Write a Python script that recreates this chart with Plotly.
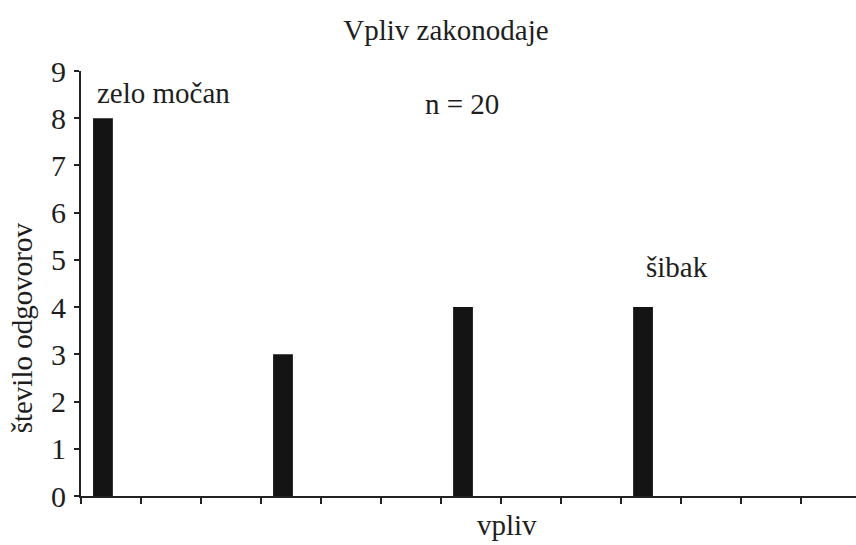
import plotly.graph_objects as go

categories = ["zelo močan", "močan", "srednje", "šibak", "zelo šibak"]
values = [8, 3, 4, 4, 0]
y_ticks = [0, 1, 2, 3, 4, 5, 6, 7, 8, 9]

FONT = "Liberation Serif"
TXT = "#1e1e1e"

positions = list(range(len(categories)))

fig = go.Figure()
fig.add_trace(go.Bar(
    x=positions, y=values, width=0.11,
    marker=dict(color="#141414", line=dict(width=0)),
    hovertext=categories, hoverinfo="text+y",
))

fig.update_layout(
    width=856, height=545,
    margin=dict(l=81, r=0, t=71, b=49),
    paper_bgcolor="white", plot_bgcolor="white",
    showlegend=False,
    font=dict(family=FONT, color=TXT, size=29),
    title=dict(text="Vpliv zakonodaje", x=0.521, xanchor="center",
               y=1 - 30 / 545, yanchor="middle",
               font=dict(family=FONT, size=29, color=TXT)),
    xaxis=dict(range=[-0.122, 4.183], tickmode="linear", tick0=-0.122, dtick=1 / 3,
               showticklabels=False, ticks="outside", ticklen=6, tickwidth=1.5,
               tickcolor="#222", showline=True, linecolor="#222", linewidth=2,
               showgrid=False, zeroline=False, fixedrange=True),
    yaxis=dict(range=[0, 9], tickmode="array", tickvals=y_ticks,
               ticktext=[str(v) for v in y_ticks],
               ticks="outside", ticklen=5, tickwidth=1.5, tickcolor="#222",
               tickfont=dict(family=FONT, size=30, color=TXT),
               ticklabelstandoff=2,
               showline=True, linecolor="#222", linewidth=2,
               showgrid=False, zeroline=False, fixedrange=True),
    annotations=[
        dict(text="zelo močan", xref="paper", yref="y", x=(95 - 81) / 775, y=8.53,
             xanchor="left", yanchor="middle", showarrow=False,
             font=dict(family=FONT, size=29, color=TXT)),
        dict(text="n = 20", xref="paper", yref="y", x=(423 - 81) / 775, y=8.3,
             xanchor="left", yanchor="middle", showarrow=False,
             font=dict(family=FONT, size=29, color=TXT)),
        dict(text="šibak", xref="paper", yref="y", x=(644 - 81) / 775, y=4.85,
             xanchor="left", yanchor="middle", showarrow=False,
             font=dict(family=FONT, size=29, color=TXT)),
        dict(text="vpliv", xref="paper", yref="paper", x=(507 - 81) / 775,
             y=-(543 - 495.7) / 425, xanchor="center", yanchor="bottom",
             showarrow=False, font=dict(family=FONT, size=29, color=TXT)),
        dict(text="število odgovorov", xref="paper", yref="y", x=(22 - 81) / 775,
             y=3.55, xanchor="center", yanchor="middle", textangle=-90,
             showarrow=False, font=dict(family=FONT, size=29, color=TXT)),
    ],
)

fig.write_html("out.html")
